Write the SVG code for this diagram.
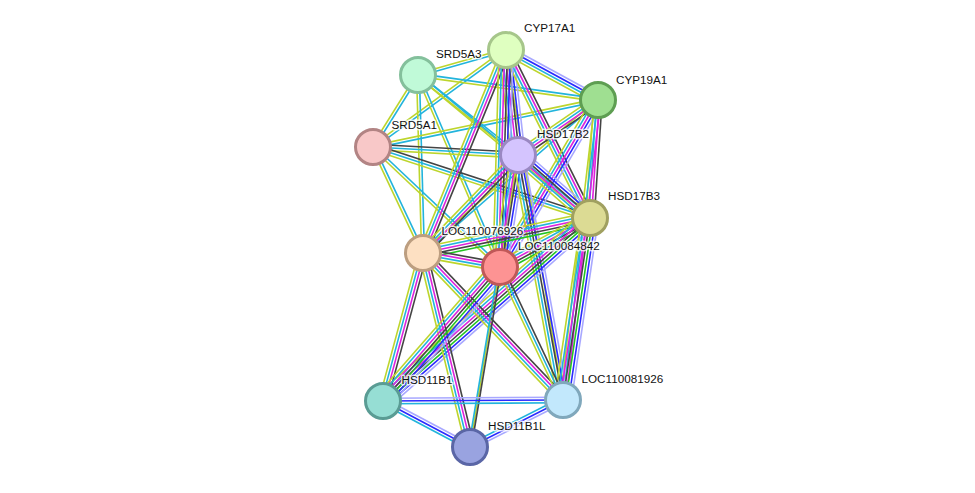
<svg xmlns="http://www.w3.org/2000/svg" width="975" height="493" viewBox="0 0 975 493">
<style>
line{stroke-width:1.6;fill:none}
.lv{stroke:#a8a8ff}.bl{stroke:#2a2aff}.gr{stroke:#22c422}.bk{stroke:#444}.mg{stroke:#dd22dd}.cy{stroke:#22b4dc}.ye{stroke:#bdd52c}
.node circle{stroke-width:3}
text{font-family:"Liberation Sans",Arial,sans-serif;font-size:11.7px;fill:#111;stroke:#fff;stroke-width:3;stroke-opacity:0.8;paint-order:stroke;stroke-linejoin:round}
</style>
<rect width="975" height="493" fill="#fff"/>
<g id="edges">
<g id="A-B" transform="translate(506,50) rotate(164.14)"><line class="cy" x2="91.5" y1="-1.4" y2="-1.4"/><line class="ye" x2="91.5" y1="1.4" y2="1.4"/></g>
<g id="A-C" transform="translate(506,50) rotate(28.52)"><line class="lv" x2="104.7" y1="-4.2" y2="-4.2"/><line class="bl" x2="104.7" y1="-1.4" y2="-1.4"/><line class="cy" x2="104.7" y1="1.4" y2="1.4"/><line class="ye" x2="104.7" y1="4.2" y2="4.2"/></g>
<g id="A-D" transform="translate(506,50) rotate(143.9)"><line class="cy" x2="164.6" y1="-1.4" y2="-1.4"/><line class="ye" x2="164.6" y1="1.4" y2="1.4"/></g>
<g id="A-J" transform="translate(506,50) rotate(80.75)"><line class="ye" x2="354.6"/></g>
<g id="B-C" transform="translate(418,75) rotate(7.91)"><line class="cy" x2="181.7" y1="-1.4" y2="-1.4"/><line class="ye" x2="181.7" y1="1.4" y2="1.4"/></g>
<g id="B-D" transform="translate(418,75) rotate(122)"><line class="cy" x2="84.9" y1="-1.4" y2="-1.4"/><line class="ye" x2="84.9" y1="1.4" y2="1.4"/></g>
<g id="B-E" transform="translate(418,75) rotate(38.66)"><line class="cy" x2="128.1" y1="-1.4" y2="-1.4"/><line class="ye" x2="128.1" y1="1.4" y2="1.4"/></g>
<g id="B-F" transform="translate(418,75) rotate(39.74)"><line class="cy" x2="223.7" y1="-1.4" y2="-1.4"/><line class="ye" x2="223.7" y1="1.4" y2="1.4"/></g>
<g id="B-G" transform="translate(418,75) rotate(88.39)"><line class="cy" x2="178.1" y1="-1.4" y2="-1.4"/><line class="ye" x2="178.1" y1="1.4" y2="1.4"/></g>
<g id="B-H" transform="translate(418,75) rotate(66.87)"><line class="cy" x2="208.8" y1="-1.4" y2="-1.4"/><line class="ye" x2="208.8" y1="1.4" y2="1.4"/></g>
<g id="C-D" transform="translate(598,100) rotate(168.2)"><line class="cy" x2="229.9" y1="-1.4" y2="-1.4"/><line class="ye" x2="229.9" y1="1.4" y2="1.4"/></g>
<g id="C-G" transform="translate(598,100) rotate(138.84)"><line class="cy" x2="232.5" y1="-1.4" y2="-1.4"/><line class="ye" x2="232.5" y1="1.4" y2="1.4"/></g>
<g id="D-E" transform="translate(373,147) rotate(3.16)"><line class="bk" x2="145.2" y1="-2.8" y2="-2.8"/><line class="cy" x2="145.2"/><line class="ye" x2="145.2" y1="2.8" y2="2.8"/></g>
<g id="D-F" transform="translate(373,147) rotate(18.12)"><line class="bk" x2="228.3" y1="-2.8" y2="-2.8"/><line class="cy" x2="228.3"/><line class="ye" x2="228.3" y1="2.8" y2="2.8"/></g>
<g id="D-G" transform="translate(373,147) rotate(64.75)"><line class="cy" x2="117.2" y1="-1.4" y2="-1.4"/><line class="ye" x2="117.2" y1="1.4" y2="1.4"/></g>
<g id="D-H" transform="translate(373,147) rotate(43.38)"><line class="cy" x2="174.7" y1="-1.4" y2="-1.4"/><line class="ye" x2="174.7" y1="1.4" y2="1.4"/></g>
<g id="E-K" transform="translate(518,155) rotate(99.33)"><line class="ye" x2="295.9"/></g>
<g id="A-E" transform="translate(506,50) rotate(83.48)"><line class="lv" x2="105.7" y1="-7" y2="-7"/><line class="bl" x2="105.7" y1="-4.2" y2="-4.2"/><line class="bk" x2="105.7" y1="-1.4" y2="-1.4"/><line class="mg" x2="105.7" y1="1.4" y2="1.4"/><line class="cy" x2="105.7" y1="4.2" y2="4.2"/><line class="ye" x2="105.7" y1="7" y2="7"/></g>
<g id="A-F" transform="translate(506,50) rotate(63.43)"><line class="bk" x2="187.8" y1="-4.2" y2="-4.2"/><line class="mg" x2="187.8" y1="-1.4" y2="-1.4"/><line class="cy" x2="187.8" y1="1.4" y2="1.4"/><line class="ye" x2="187.8" y1="4.2" y2="4.2"/></g>
<g id="A-G" transform="translate(506,50) rotate(112.24)"><line class="bk" x2="219.3" y1="-4.2" y2="-4.2"/><line class="mg" x2="219.3" y1="-1.4" y2="-1.4"/><line class="cy" x2="219.3" y1="1.4" y2="1.4"/><line class="ye" x2="219.3" y1="4.2" y2="4.2"/></g>
<g id="A-H" transform="translate(506,50) rotate(91.58)"><line class="lv" x2="217.1" y1="-7" y2="-7"/><line class="bl" x2="217.1" y1="-4.2" y2="-4.2"/><line class="bk" x2="217.1" y1="-1.4" y2="-1.4"/><line class="mg" x2="217.1" y1="1.4" y2="1.4"/><line class="cy" x2="217.1" y1="4.2" y2="4.2"/><line class="ye" x2="217.1" y1="7" y2="7"/></g>
<g id="C-E" transform="translate(598,100) rotate(145.49)"><line class="bk" x2="97.1" y1="-4.2" y2="-4.2"/><line class="mg" x2="97.1" y1="-1.4" y2="-1.4"/><line class="cy" x2="97.1" y1="1.4" y2="1.4"/><line class="ye" x2="97.1" y1="4.2" y2="4.2"/></g>
<g id="C-F" transform="translate(598,100) rotate(93.88)"><line class="bk" x2="118.3" y1="-4.2" y2="-4.2"/><line class="mg" x2="118.3" y1="-1.4" y2="-1.4"/><line class="cy" x2="118.3" y1="1.4" y2="1.4"/><line class="ye" x2="118.3" y1="4.2" y2="4.2"/></g>
<g id="C-H" transform="translate(598,100) rotate(120.4)"><line class="lv" x2="193.6" y1="-5.6" y2="-5.6"/><line class="bl" x2="193.6" y1="-2.8" y2="-2.8"/><line class="mg" x2="193.6"/><line class="cy" x2="193.6" y1="2.8" y2="2.8"/><line class="ye" x2="193.6" y1="5.6" y2="5.6"/></g>
<g id="C-J" transform="translate(598,100) rotate(96.65)"><line class="mg" x2="302" y1="-2.8" y2="-2.8"/><line class="cy" x2="302"/><line class="ye" x2="302" y1="2.8" y2="2.8"/></g>
<g id="E-F" transform="translate(518,155) rotate(41.19)"><line class="lv" x2="95.7" y1="-7" y2="-7"/><line class="bl" x2="95.7" y1="-4.2" y2="-4.2"/><line class="bk" x2="95.7" y1="-1.4" y2="-1.4"/><line class="mg" x2="95.7" y1="1.4" y2="1.4"/><line class="cy" x2="95.7" y1="4.2" y2="4.2"/><line class="ye" x2="95.7" y1="7" y2="7"/></g>
<g id="E-G" transform="translate(518,155) rotate(134.11)"><line class="bk" x2="136.5" y1="-4.2" y2="-4.2"/><line class="mg" x2="136.5" y1="-1.4" y2="-1.4"/><line class="cy" x2="136.5" y1="1.4" y2="1.4"/><line class="ye" x2="136.5" y1="4.2" y2="4.2"/></g>
<g id="E-H" transform="translate(518,155) rotate(99.13)"><line class="lv" x2="113.4" y1="-7" y2="-7"/><line class="bl" x2="113.4" y1="-4.2" y2="-4.2"/><line class="bk" x2="113.4" y1="-1.4" y2="-1.4"/><line class="mg" x2="113.4" y1="1.4" y2="1.4"/><line class="cy" x2="113.4" y1="4.2" y2="4.2"/><line class="ye" x2="113.4" y1="7" y2="7"/></g>
<g id="E-J" transform="translate(518,155) rotate(79.59)"><line class="lv" x2="249.1" y1="-5.6" y2="-5.6"/><line class="bl" x2="249.1" y1="-2.8" y2="-2.8"/><line class="bk" x2="249.1"/><line class="cy" x2="249.1" y1="2.8" y2="2.8"/><line class="ye" x2="249.1" y1="5.6" y2="5.6"/></g>
<g id="F-G" transform="translate(590,218) rotate(168.16)"><line class="gr" x2="170.6" y1="-5.6" y2="-5.6"/><line class="bk" x2="170.6" y1="-2.8" y2="-2.8"/><line class="mg" x2="170.6"/><line class="cy" x2="170.6" y1="2.8" y2="2.8"/><line class="ye" x2="170.6" y1="5.6" y2="5.6"/></g>
<g id="F-H" transform="translate(590,218) rotate(151.43)"><line class="gr" x2="102.5" y1="-5.6" y2="-5.6"/><line class="bk" x2="102.5" y1="-2.8" y2="-2.8"/><line class="mg" x2="102.5"/><line class="cy" x2="102.5" y1="2.8" y2="2.8"/><line class="ye" x2="102.5" y1="5.6" y2="5.6"/></g>
<g id="F-I" transform="translate(590,218) rotate(138.52)"><line class="lv" x2="276.3" y1="-8.4" y2="-8.4"/><line class="bl" x2="276.3" y1="-5.6" y2="-5.6"/><line class="gr" x2="276.3" y1="-2.8" y2="-2.8"/><line class="bk" x2="276.3"/><line class="mg" x2="276.3" y1="2.8" y2="2.8"/><line class="cy" x2="276.3" y1="5.6" y2="5.6"/><line class="ye" x2="276.3" y1="8.4" y2="8.4"/></g>
<g id="F-J" transform="translate(590,218) rotate(98.44)"><line class="lv" x2="184" y1="-8.4" y2="-8.4"/><line class="bl" x2="184" y1="-5.6" y2="-5.6"/><line class="gr" x2="184" y1="-2.8" y2="-2.8"/><line class="bk" x2="184"/><line class="mg" x2="184" y1="2.8" y2="2.8"/><line class="cy" x2="184" y1="5.6" y2="5.6"/><line class="ye" x2="184" y1="8.4" y2="8.4"/></g>
<g id="G-H" transform="translate(423,253) rotate(10.3)"><line class="bk" x2="78.3" y1="-4.2" y2="-4.2"/><line class="mg" x2="78.3" y1="-1.4" y2="-1.4"/><line class="cy" x2="78.3" y1="1.4" y2="1.4"/><line class="ye" x2="78.3" y1="4.2" y2="4.2"/></g>
<g id="G-I" transform="translate(423,253) rotate(105.12)"><line class="bk" x2="153.3" y1="-4.2" y2="-4.2"/><line class="mg" x2="153.3" y1="-1.4" y2="-1.4"/><line class="cy" x2="153.3" y1="1.4" y2="1.4"/><line class="ye" x2="153.3" y1="4.2" y2="4.2"/></g>
<g id="G-J" transform="translate(423,253) rotate(46.4)"><line class="bk" x2="203" y1="-4.2" y2="-4.2"/><line class="mg" x2="203" y1="-1.4" y2="-1.4"/><line class="cy" x2="203" y1="1.4" y2="1.4"/><line class="ye" x2="203" y1="4.2" y2="4.2"/></g>
<g id="G-K" transform="translate(423,253) rotate(76.38)"><line class="bk" x2="199.6" y1="-4.2" y2="-4.2"/><line class="mg" x2="199.6" y1="-1.4" y2="-1.4"/><line class="cy" x2="199.6" y1="1.4" y2="1.4"/><line class="ye" x2="199.6" y1="4.2" y2="4.2"/></g>
<g id="H-I" transform="translate(500,267) rotate(131.13)"><line class="lv" x2="177.9" y1="-8.4" y2="-8.4"/><line class="bl" x2="177.9" y1="-5.6" y2="-5.6"/><line class="gr" x2="177.9" y1="-2.8" y2="-2.8"/><line class="bk" x2="177.9"/><line class="mg" x2="177.9" y1="2.8" y2="2.8"/><line class="cy" x2="177.9" y1="5.6" y2="5.6"/><line class="ye" x2="177.9" y1="8.4" y2="8.4"/></g>
<g id="H-J" transform="translate(500,267) rotate(64.65)"><line class="bk" x2="147.2" y1="-2.8" y2="-2.8"/><line class="cy" x2="147.2"/><line class="ye" x2="147.2" y1="2.8" y2="2.8"/></g>
<g id="H-K" transform="translate(500,267) rotate(99.46)"><line class="bk" x2="182.5" y1="-1.4" y2="-1.4"/><line class="cy" x2="182.5" y1="1.4" y2="1.4"/></g>
<g id="I-J" transform="translate(383,401) rotate(-0.32)"><line class="lv" x2="180" y1="-2.8" y2="-2.8"/><line class="bl" x2="180"/><line class="cy" x2="180" y1="2.8" y2="2.8"/></g>
<g id="I-K" transform="translate(383,401) rotate(27.87)"><line class="lv" x2="98.4" y1="-2.8" y2="-2.8"/><line class="bl" x2="98.4"/><line class="cy" x2="98.4" y1="2.8" y2="2.8"/></g>
<g id="J-K" transform="translate(563,400) rotate(153.19)"><line class="lv" x2="104.2" y1="-2.8" y2="-2.8"/><line class="bl" x2="104.2"/><line class="cy" x2="104.2" y1="2.8" y2="2.8"/></g>
</g>
<g id="CYP17A1" class="node"><circle cx="506" cy="50" r="17.5" fill="#dfffc0" stroke="#a6c68a"/><text x="524" y="32">CYP17A1</text></g>
<g id="SRD5A3" class="node"><circle cx="418" cy="75" r="17.5" fill="#c0fad8" stroke="#84c09c"/><text x="436" y="58">SRD5A3</text></g>
<g id="CYP19A1" class="node"><circle cx="598" cy="100" r="17.5" fill="#9fdf91" stroke="#5e9e52"/><text x="616" y="83.5">CYP19A1</text></g>
<g id="SRD5A1" class="node"><circle cx="373" cy="147" r="17.5" fill="#f8c8c8" stroke="#b28484"/><text x="391.5" y="129">SRD5A1</text></g>
<g id="HSD17B2" class="node"><circle cx="518" cy="155" r="17.5" fill="#d4c4fe" stroke="#9a88c2"/><text x="537" y="137.5">HSD17B2</text></g>
<g id="HSD17B3" class="node"><circle cx="590" cy="218" r="17.5" fill="#dcdb94" stroke="#a0a060"/><text x="608" y="200">HSD17B3</text></g>
<g id="LOC110076926" class="node"><circle cx="423" cy="253" r="17.5" fill="#fde0c2" stroke="#bc9e80"/><text x="441.5" y="235">LOC110076926</text></g>
<g id="LOC110084842" class="node"><circle cx="500" cy="267" r="17.5" fill="#fd9393" stroke="#c05858"/><text x="518" y="250">LOC110084842</text></g>
<g id="HSD11B1" class="node"><circle cx="383" cy="401" r="17.5" fill="#96ded4" stroke="#5a9c94"/><text x="401.5" y="384">HSD11B1</text></g>
<g id="LOC110081926" class="node"><circle cx="563" cy="400" r="17.5" fill="#c2e8fc" stroke="#80a8bc"/><text x="581.5" y="383">LOC110081926</text></g>
<g id="HSD11B1L" class="node"><circle cx="470" cy="447" r="17.5" fill="#99a3e0" stroke="#5a66a6"/><text x="488" y="430">HSD11B1L</text></g>
</svg>
